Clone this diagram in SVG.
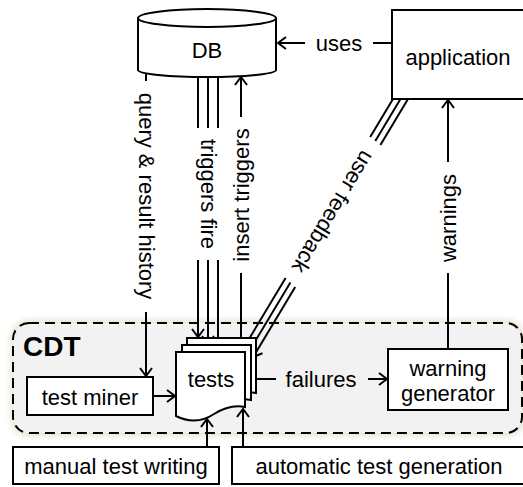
<svg xmlns="http://www.w3.org/2000/svg" width="523" height="487" viewBox="0 0 523 487">
  <style>
    .box { fill: #ffffff; stroke: #000000; stroke-width: 2; }
    .ln { fill: none; stroke: #000000; stroke-width: 2; }
    .arr { fill: none; stroke: #000000; stroke-width: 2; marker-end: url(#ah); }
    .t { font-family: "Liberation Sans", Arial, Helvetica, sans-serif; font-size: 22px; fill: #000000; text-anchor: middle; dominant-baseline: central; }
    .title { font-family: "Liberation Sans", Arial, Helvetica, sans-serif; font-size: 28px; font-weight: bold; fill: #000000; }
  </style>
  <defs>
    <marker id="ah" markerUnits="userSpaceOnUse" markerWidth="16" markerHeight="16" viewBox="-10 -8 12 16" refX="0" refY="0" orient="auto" overflow="visible">
      <path d="M-8,-6 L0,0 L-8,6" fill="none" stroke="#000000" stroke-width="2"/>
    </marker>
    <filter id="halo" x="-5%" y="-20%" width="110%" height="140%">
      <feGaussianBlur stdDeviation="3"/>
    </filter>
    <path id="doc" d="M0,0 H69 V55 Q54,52 38,62 Q20,74 0,64 Z"/>
  </defs>

  <!-- CDT container -->
  <g id="cdt">
    <rect x="11" y="320" width="514" height="116" rx="18" fill="#e6e2cf" filter="url(#halo)"/>
    <rect x="13" y="323" width="509" height="110" rx="16" fill="#f2f2f2" stroke="#000000" stroke-width="2" stroke-dasharray="10 6"/>
    <text class="title" x="23" y="356">CDT</text>
  </g>

  <!-- connectors -->
  <g id="connectors">
    <!-- application uses DB -->
    <line class="ln" x1="392" y1="43" x2="373" y2="43"/>
    <line class="arr" x1="305" y1="43" x2="278" y2="43"/>
    <text class="t" x="339" y="43">uses</text>

    <!-- query & result history -->
    <line class="ln" x1="146" y1="73" x2="146" y2="81"/>
    <line class="arr" x1="146" y1="312" x2="146" y2="376"/>
    <text class="t" transform="translate(146,196) rotate(90)">query &amp; result history</text>

    <!-- triggers fire (three parallel arrows) -->
    <line class="ln" x1="198" y1="77" x2="198" y2="128"/>
    <line class="ln" x1="208" y1="77" x2="208" y2="128"/>
    <line class="ln" x1="218" y1="77" x2="218" y2="128"/>
    <line class="arr" x1="198" y1="260" x2="198" y2="337"/>
    <line class="arr" x1="208" y1="260" x2="208" y2="344"/>
    <line class="arr" x1="218" y1="260" x2="218" y2="351"/>
    <text class="t" transform="translate(208,194) rotate(90)">triggers fire</text>

    <!-- insert triggers -->
    <line class="ln" x1="241" y1="338" x2="241" y2="273"/>
    <line class="arr" x1="241" y1="117" x2="241" y2="77"/>
    <text class="t" transform="translate(241,195) rotate(-90)">insert triggers</text>

    <!-- user feedback (three parallel arrows) -->
    <line class="ln" x1="393" y1="99" x2="370.2" y2="137"/>
    <line class="ln" x1="400.5" y1="99" x2="375.3" y2="141"/>
    <line class="ln" x1="408" y1="99" x2="380.4" y2="145"/>
    <line class="arr" x1="285.6" y1="278" x2="242.4" y2="350"/>
    <line class="arr" x1="290.4" y1="282.5" x2="247.5" y2="354"/>
    <line class="arr" x1="295.2" y1="287" x2="253.2" y2="357"/>
    <text class="t" transform="translate(333,212) rotate(121)">user feedback</text>

    <!-- warnings -->
    <line class="ln" x1="448" y1="349" x2="448" y2="273"/>
    <line class="arr" x1="448" y1="162" x2="448" y2="100"/>
    <text class="t" transform="translate(448,218) rotate(-90)">warnings</text>

    <!-- test miner to tests -->
    <line class="arr" x1="153" y1="396" x2="175" y2="396"/>

    <!-- failures -->
    <line class="ln" x1="256" y1="379" x2="276" y2="379"/>
    <line class="arr" x1="368" y1="379" x2="387" y2="379"/>
    <text class="t" x="321" y="379">failures</text>

    <!-- manual / automatic generation into tests -->
    <line class="arr" x1="207" y1="447" x2="207" y2="419"/>
    <line class="arr" x1="243" y1="447" x2="243" y2="409"/>
  </g>

  <!-- DB -->
  <g id="db">
    <path class="box" d="M138,18 V70 A69,7 0 0 0 276,70 V18"/>
    <ellipse class="box" cx="207" cy="18" rx="69" ry="9"/>
    <text class="t" x="207" y="50">DB</text>
  </g>

  <!-- application -->
  <g id="application">
    <rect class="box" x="392" y="10" width="133" height="89"/>
    <text class="t" x="458" y="57">application</text>
  </g>

  <!-- tests stack -->
  <g id="tests">
    <use href="#doc" class="box" x="187" y="338"/>
    <use href="#doc" class="box" x="182" y="345"/>
    <use href="#doc" class="box" x="176" y="352"/>
    <text class="t" x="211" y="379">tests</text>
  </g>

  <!-- test miner -->
  <g id="test-miner">
    <rect class="box" x="27" y="377" width="126" height="38"/>
    <text class="t" x="90" y="397">test miner</text>
  </g>

  <!-- warning generator -->
  <g id="warning-generator">
    <rect class="box" x="388" y="349" width="120" height="61"/>
    <text class="t" x="448" y="368">warning</text>
    <text class="t" x="448" y="393">generator</text>
  </g>

  <!-- manual test writing -->
  <g id="manual-test-writing">
    <rect class="box" x="13" y="447" width="206" height="37"/>
    <text class="t" x="116" y="466">manual test writing</text>
  </g>

  <!-- automatic test generation -->
  <g id="automatic-test-generation">
    <rect class="box" x="232" y="447" width="294" height="37"/>
    <text class="t" x="379" y="466">automatic test generation</text>
  </g>
</svg>
